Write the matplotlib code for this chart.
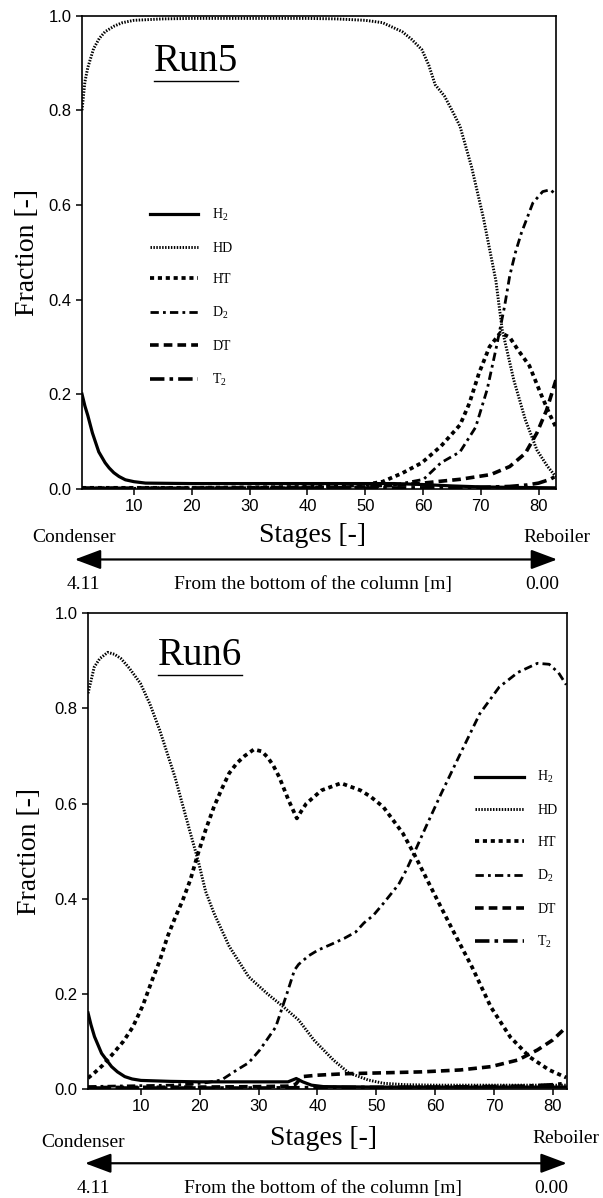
import matplotlib
matplotlib.use('Agg')
import matplotlib.pyplot as plt
from matplotlib.patches import FancyArrowPatch
from matplotlib.lines import Line2D

plt.rcParams['font.family'] = 'Liberation Serif'
plt.rcParams['mathtext.fontset'] = 'custom'
plt.rcParams['mathtext.rm'] = 'Liberation Serif'
plt.rcParams['mathtext.it'] = 'Liberation Serif:italic'

# ---------------- Run5 ----------------
r5_h2_x = [1, 1.5, 2, 2.8, 3.9, 5, 5.7, 6.5, 7.4, 8.5, 10, 12, 20, 30, 40, 50, 55, 60, 65, 70, 75, 83]
r5_h2_y = [0.20, 0.175, 0.155, 0.118, 0.078, 0.055, 0.044, 0.034, 0.026, 0.019, 0.015, 0.012,
           0.011, 0.011, 0.011, 0.011, 0.011, 0.009, 0.006, 0.004, 0.003, 0.002]

r5_hd_x = [1, 1.5, 2, 3, 4, 5, 6.6, 8, 10, 15, 20, 30, 40, 45, 50, 53, 56.4, 58, 59.8, 61, 62.1,
           63.7, 65, 66.4, 68.4, 70.4, 72.6, 73.7, 75.7, 77.7, 79.7, 81.5, 83]
r5_hd_y = [0.80, 0.86, 0.89, 0.93, 0.952, 0.966, 0.978, 0.985, 0.99, 0.993, 0.994, 0.994, 0.994,
           0.993, 0.99, 0.985, 0.966, 0.95, 0.928, 0.895, 0.854, 0.83, 0.80, 0.766, 0.68, 0.575,
           0.44, 0.336, 0.23, 0.146, 0.082, 0.048, 0.025]

r5_ht_x = [1, 10, 20, 30, 40, 45, 48, 50, 53, 56.4, 59.8, 63.1, 66.4, 68, 69.7, 71.5, 73.4, 75,
           76.4, 78.4, 80.4, 82, 83]
r5_ht_y = [0.002, 0.002, 0.002, 0.003, 0.004, 0.005, 0.007, 0.009, 0.015, 0.033, 0.055, 0.09,
           0.135, 0.18, 0.245, 0.30, 0.33, 0.32, 0.294, 0.26, 0.2, 0.155, 0.13]

r5_d2_x = [1, 20, 40, 50, 55, 60.1, 63.1, 66.4, 69.1, 71.1, 72.7, 74.1, 75, 76, 77, 79, 80.7, 82, 83]
r5_d2_y = [0.001, 0.001, 0.002, 0.004, 0.008, 0.02, 0.055, 0.078, 0.13, 0.21, 0.30, 0.385, 0.45,
           0.50, 0.54, 0.604, 0.628, 0.632, 0.622]

r5_dt_x = [1, 30, 50, 55, 60, 63.1, 66.4, 71.7, 75, 77.7, 79.7, 81.4, 83]
r5_dt_y = [0.001, 0.002, 0.004, 0.007, 0.012, 0.016, 0.02, 0.03, 0.047, 0.075, 0.118, 0.167, 0.23]

r5_t2_x = [1, 40, 60, 70, 75, 78, 80, 82, 83]
r5_t2_y = [0.001, 0.001, 0.002, 0.003, 0.005, 0.008, 0.012, 0.02, 0.027]

# ---------------- Run6 ----------------
r6_h2_x = [1, 1.5, 2.1, 3.3, 4.2, 5, 6, 7.25, 8.5, 10, 15, 20, 25, 30, 35, 36.4, 37.5, 39, 41,
           50, 60, 70, 82.3]
r6_h2_y = [0.16, 0.135, 0.11, 0.075, 0.06, 0.047, 0.036, 0.026, 0.021, 0.018, 0.016, 0.015, 0.015,
           0.015, 0.015, 0.022, 0.015, 0.008, 0.005, 0.004, 0.004, 0.004, 0.004]

r6_hd_x = [1, 2.05, 3, 4.35, 5.5, 6.6, 8, 9.9, 11.5, 13.2, 15.8, 18.4, 19.7, 21, 22.4, 25, 28.3,
           31.5, 34.2, 36.8, 39.4, 42.7, 45.3, 48.6, 51.2, 55, 60, 70, 82.3]
r6_hd_y = [0.832, 0.887, 0.905, 0.918, 0.914, 0.905, 0.885, 0.853, 0.81, 0.754, 0.655, 0.538,
           0.481, 0.415, 0.37, 0.30, 0.236, 0.20, 0.173, 0.145, 0.103, 0.061, 0.034, 0.019, 0.012,
           0.009, 0.008, 0.008, 0.008]

r6_ht_x = [1, 2, 3.5, 5.3, 7, 8.6, 10.3, 11.9, 13.2, 14.5, 15.8, 17.1, 18.4, 19.7, 21, 22.4, 23.7,
           25, 26.3, 27.6, 29.2, 30.5, 31.5, 32.5, 33.5, 35.1, 36.5, 37.3, 38.1, 40.7, 44, 47.3,
           49, 51.2, 54.5, 56.4, 58.4, 60.4, 63, 66.3, 69.5, 72.8, 76.1, 79.4, 82.3]
r6_ht_y = [0.023, 0.033, 0.05, 0.075, 0.10, 0.13, 0.175, 0.229, 0.27, 0.32, 0.36, 0.397, 0.44,
           0.495, 0.545, 0.593, 0.63, 0.664, 0.685, 0.70, 0.714, 0.71, 0.698, 0.68, 0.656, 0.607,
           0.569, 0.585, 0.60, 0.628, 0.643, 0.628, 0.615, 0.593, 0.538, 0.495, 0.446, 0.397,
           0.334, 0.256, 0.172, 0.109, 0.067, 0.04, 0.024]

r6_d2_x = [1, 5, 10, 15, 18.4, 21, 23.7, 26.3, 28.3, 30.2, 32.9, 34.8, 36.1, 36.8, 38.5, 40.1,
           42.5, 44.6, 46.5, 47.9, 49.5, 51.2, 53.8, 55.1, 56.4, 58.4, 61, 64.3, 67.6, 70.9, 74.1,
           77.4, 79.4, 81, 82.3]
r6_d2_y = [0.005, 0.006, 0.007, 0.008, 0.01, 0.013, 0.019, 0.04, 0.055, 0.082, 0.13, 0.20, 0.25,
           0.262, 0.28, 0.292, 0.305, 0.317, 0.33, 0.349, 0.365, 0.39, 0.43, 0.46, 0.495, 0.55,
           0.62, 0.705, 0.789, 0.845, 0.876, 0.895, 0.893, 0.875, 0.85]

r6_dt_x = [1, 20, 30, 35, 36.3, 37.4, 40, 44.6, 51.2, 57.8, 64.3, 69.5, 74.1, 77.4, 80, 82.3]
r6_dt_y = [0.003, 0.004, 0.005, 0.006, 0.01, 0.026, 0.029, 0.032, 0.034, 0.036, 0.04, 0.047,
           0.061, 0.082, 0.103, 0.13]

r6_t2_x = [1, 30, 40, 60, 75, 80, 82.3]
r6_t2_y = [0.002, 0.002, 0.003, 0.004, 0.006, 0.009, 0.012]

rotulos = [r'$\mathrm{H_2}$', 'HD', 'HT', r'$\mathrm{D_2}$', 'DT', r'$\mathrm{T_2}$']
estilos = [
    dict(lw=2.3, ls='-'),
    dict(lw=2.1, ls=(0, (0.5, 0.5))),
    dict(lw=2.7, ls=(0, (1.1, 1.0))),
    dict(lw=2.0, ls=(0, (3, 1.5, 1, 1.5))),
    dict(lw=2.6, ls=(0, (2.4, 1.4))),
    dict(lw=2.6, ls=(0, (4, 1.4, 1, 1.4))),
]

run5 = [(r5_h2_x, r5_h2_y), (r5_hd_x, r5_hd_y), (r5_ht_x, r5_ht_y),
        (r5_d2_x, r5_d2_y), (r5_dt_x, r5_dt_y), (r5_t2_x, r5_t2_y)]
run6 = [(r6_h2_x, r6_h2_y), (r6_hd_x, r6_hd_y), (r6_ht_x, r6_ht_y),
        (r6_d2_x, r6_d2_y), (r6_dt_x, r6_dt_y), (r6_t2_x, r6_t2_y)]

fig = plt.figure(figsize=(6.03, 11.98), dpi=100)
ax1 = fig.add_axes([0.136, 0.592, 0.786, 0.395])
ax2 = fig.add_axes([0.146, 0.091, 0.794, 0.397])


def desenha(ax, series, xmax, leg_anchor, labelpad):
    for (x, y), st, lab in zip(series, estilos, rotulos):
        ax.plot(x, y, color='k', label=lab, dash_capstyle='butt', **st)
    ax.set_xlim(1, xmax)
    ax.set_ylim(0, 1.0)
    ax.set_xticks([10, 20, 30, 40, 50, 60, 70, 80])
    ax.set_yticks([0.0, 0.2, 0.4, 0.6, 0.8, 1.0])
    ax.set_yticklabels(['0.0', '0.2', '0.4', '0.6', '0.8', '1.0'])
    ax.tick_params(direction='out', length=4, width=1.1, labelsize=12)
    plt.setp(ax.get_xticklabels() + ax.get_yticklabels(), fontfamily='Liberation Sans')
    for s in ax.spines.values():
        s.set_linewidth(1.2)
    ax.set_ylabel('Fraction [-]', fontsize=20, labelpad=labelpad)
    ax.legend(loc='upper left', bbox_to_anchor=leg_anchor, frameon=False, borderpad=0,
              borderaxespad=0, handlelength=3.5, handletextpad=1.0, labelspacing=1.35,
              prop={'family': 'Liberation Serif', 'size': 10})


desenha(ax1, run5, 83, (0.143, 0.596), 6)
desenha(ax2, run6, 82.4, (0.808, 0.672), 9)

t1 = ax1.text(0.152, 0.882, 'Run5', transform=ax1.transAxes, fontsize=28)
t2 = ax2.text(0.146, 0.891, 'Run6', transform=ax2.transAxes, fontsize=28)

# textos e setas abaixo de cada gráfico
rodape = [
    # stages_x, stages_y, cond_x, cond_y, reb_x, reb_y, seta_x0, seta_x1, seta_y, num_y, from_x, v0_x, v1_x
    (0.519, 0.553, 0.123, 0.551, 0.924, 0.551, 0.124, 0.924, 0.533, 0.512, 0.519, 0.138, 0.899),
    (0.537, 0.050, 0.138, 0.046, 0.939, 0.050, 0.141, 0.940, 0.029, 0.008, 0.536, 0.155, 0.915),
]
for (sx, sy, cx, cy, rx, ry, a0, a1, ay, ny, fx, v0, v1) in rodape:
    fig.text(sx, sy, 'Stages [-]', fontsize=20, ha='center', va='center')
    fig.text(cx, cy, 'Condenser', fontsize=14, ha='center', va='center')
    fig.text(rx, ry, 'Reboiler', fontsize=14, ha='center', va='center')
    seta = FancyArrowPatch((a0, ay), (a1, ay), transform=fig.transFigure,
                           arrowstyle='<|-|>,head_length=1.6,head_width=0.6',
                           mutation_scale=10, lw=1.6, color='k', shrinkA=0, shrinkB=0)
    fig.add_artist(seta)
    fig.text(v0, ny, '4.11', fontsize=14, ha='center', va='center')
    fig.text(fx, ny, 'From the bottom of the column [m]', fontsize=14, ha='center', va='center')
    fig.text(v1, ny, '0.00', fontsize=14, ha='center', va='center')

# sublinhado dos títulos Run5 / Run6
fig.canvas.draw()
ren = fig.canvas.get_renderer()
for t in (t1, t2):
    bb = t.get_window_extent(renderer=ren)
    W, H = fig.bbox.width, fig.bbox.height
    yb = (bb.y0 - 1) / H
    fig.add_artist(Line2D([bb.x0 / W, bb.x1 / W], [yb, yb], transform=fig.transFigure,
                          color='k', lw=1.0))

fig.savefig('out.png', dpi=100)
